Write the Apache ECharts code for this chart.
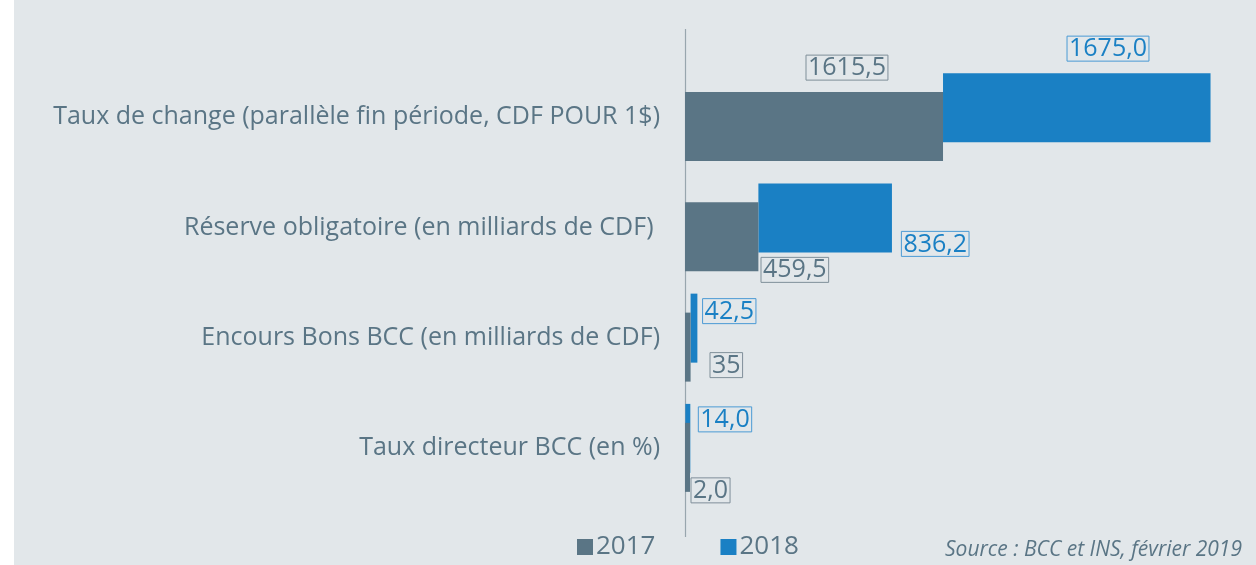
<!DOCTYPE html>
<html>
<head>
<meta charset="utf-8">
<script src="https://cdn.jsdelivr.net/npm/echarts@6/dist/echarts.min.js"></script>
<style>
  html, body { margin: 0; padding: 0; background: #fff; }
  #main { width: 1256px; height: 565px; }
</style>
</head>
<body>
<div id="main"></div>
<script>
// categories, top to bottom
var categories = [
  'Taux de change (parallèle fin période, CDF POUR 1$)',
  'Réserve obligatoire (en milliards de CDF) ',
  'Encours Bons BCC (en milliards de CDF)',
  'Taux directeur BCC (en %)'
]
var values2017 = [1615.5, 459.5, 35, 2.0]
var values2018 = [1675.0, 836.2, 42.5, 14.0]
var labels2017 = ['1615,5', '459,5', '35', '2,0']
var labels2018 = ['1675,0', '836,2', '42,5', '14,0']

var grey = '#5a7585'
var blue = '#1a80c4'

// where each value box sits, relative to its bar
var labelPos2017 = [[121, -37], [76, 55], [25, 40], [6, 55]]
var labelPos2018 = [[124, -37], [143, 48], [12, 5], [13, 3]]

function boxLabel(text, pos, color, border) {
    return {
        show: true,
        position: pos,
        formatter: text,
        color: color,
        fontFamily: 'Open Sans',
        fontSize: 25,
        lineHeight: 24,
        borderColor: border,
        borderWidth: 1,
        padding: [1, 2, 0, 2]
    }
}

var data2017 = values2017.map(function (v, i) {
    return { value: v, label: boxLabel(labels2017[i], labelPos2017[i], grey, '#7f8f99') }
})
var data2018 = values2018.map(function (v, i) {
    return { value: v, label: boxLabel(labels2018[i], labelPos2018[i], blue, '#4a9ad4') }
})

var myChart = echarts.init(document.getElementById('main'))
var option = {
    backgroundColor: '#e2e7ea',
    animation: false,
    textStyle: { fontFamily: 'Open Sans' },
    title: {
        text: 'Source : BCC et INS, février 2019',
        right: 9,
        top: 535,
        textStyle: { fontStyle: 'italic', fontWeight: 'normal', fontSize: 21, color: grey, fontFamily: 'Open Sans' }
    },
    legend: {
        data: ['2017', '2018'],
        left: 572,
        top: 529,
        icon: 'rect',
        itemWidth: 16,
        itemHeight: 16,
        itemGap: 65,
        textStyle: { fontSize: 26, color: grey, fontFamily: 'Open Sans', padding: [0, 0, 0, -2] }
    },
    graphic: [
        { type: 'rect', left: 0, top: 0, shape: { width: 14, height: 565 }, style: { fill: '#ffffff' } },
        { type: 'line', shape: { x1: 685.5, y1: 29, x2: 685.5, y2: 537 }, style: { stroke: '#98a6ae', lineWidth: 1.2 } }
    ],
    grid: { left: 685, right: 12, top: 62, bottom: 62 },
    xAxis: {
        type: 'value',
        min: 0,
        max: 3500,
        show: false
    },
    yAxis: {
        type: 'category',
        inverse: true,
        data: categories,
        axisLine: { show: false },
        axisTick: { show: false },
        axisLabel: { fontSize: 25, color: grey, margin: 25, fontFamily: 'Open Sans' }
    },
    series: [
        {
            name: 'base',
            type: 'bar',
            stack: 'b',
            barWidth: 69,
            barGap: '-72.5%',
            itemStyle: { color: 'transparent' },
            silent: true,
            data: values2017
        },
        {
            name: '2018',
            type: 'bar',
            stack: 'b',
            barWidth: 69,
            barMinHeight: 5,
            itemStyle: { color: blue },
            data: data2018
        },
        {
            name: '2017',
            type: 'bar',
            stack: 'a',
            barWidth: 69,
            barGap: '-72.5%',
            barMinHeight: 5,
            itemStyle: { color: grey },
            data: data2017
        }
    ]
}
myChart.setOption(option)
</script>
</body>
</html>
